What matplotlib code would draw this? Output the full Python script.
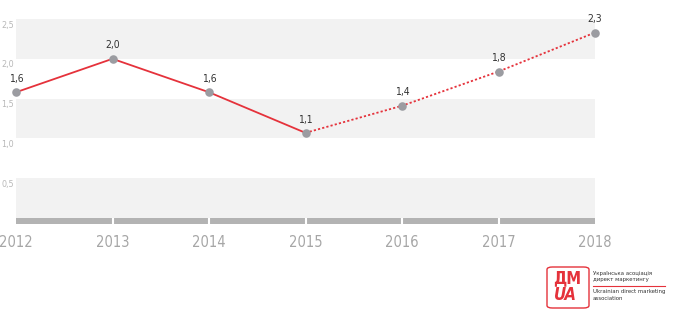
import matplotlib
matplotlib.use("Agg")
import matplotlib.pyplot as plt
from matplotlib.patches import FancyBboxPatch

years = [2012, 2013, 2014, 2015, 2016, 2017, 2018]
values = [1.58, 2.0, 1.58, 1.07, 1.41, 1.84, 2.33]
value_labels = ["1,6", "2,0", "1,6", "1,1", "1,4", "1,8", "2,3"]
ytick_vals = [0.5, 1.0, 1.5, 2.0, 2.5]
ytick_labels = ["0,5", "1,0", "1,5", "2,0", "2,5"]
solid_end = 3  # index of 2015, last actual value

RED = "#e5323b"
DOT = "#9b9ca1"
COND = dict(family="DejaVu Sans", fontstretch="condensed")

W, H = 680, 312
fig = plt.figure(figsize=(W / 100, H / 100), dpi=100)
left, right, top, bottom = 16, 595, 19, 224
ax = fig.add_axes([left / W, 1 - bottom / H, (right - left) / W, (bottom - top) / H])
ax.set_xlim(2012, 2018)
ax.set_ylim(-0.075, 2.5)
ax.axis("off")

# grey bands
for lo in [0.0, 1.0, 2.0]:
    ax.axhspan(lo, lo + 0.5, color="#f2f2f2", lw=0, zorder=0)

# bottom axis bar with gaps at the ticks
ax.axhspan(-0.075, 0, color="#b3b3b3", lw=0, zorder=1)
for yr in years[1:-1]:
    ax.plot([yr, yr], [-0.075, 0], color="white", lw=1.5, zorder=2, solid_capstyle="butt")

# line: solid for actual, dotted for forecast
ax.plot(years[:solid_end + 1], values[:solid_end + 1], color=RED, lw=1.3, zorder=3)
ax.plot(years[solid_end:], values[solid_end:], color=RED, lw=1.3, ls=(0, (1.2, 1.2)), zorder=3)
ax.scatter(years, values, s=38, color=DOT, zorder=4, clip_on=False, linewidths=0)

for x, v, lab in zip(years, values, value_labels):
    ax.annotate(lab, (x, v), xytext=(0, 6), textcoords="offset points", ha="center", va="bottom",
                fontsize=7.5, color="#333333", annotation_clip=False, **COND)

for v, lab in zip(ytick_vals, ytick_labels):
    ax.text(-0.003, v - 0.02, lab, transform=ax.get_yaxis_transform(), ha="right", va="top",
            fontsize=6.5, color="#b8b8b8", **COND)

for yr in years:
    ax.annotate(str(yr), (yr, -0.075), xytext=(0, -8), textcoords="offset points", ha="center", va="top",
                fontsize=10.5, color="#a6a6a6", annotation_clip=False, **COND)

# logo
lx0, ly0, lw_, lh = 547, 267, 42, 41
box = FancyBboxPatch((lx0 / W, 1 - (ly0 + lh) / H), lw_ / W, lh / H,
                     boxstyle="round,pad=0,rounding_size=0.008", transform=fig.transFigure,
                     facecolor="white", edgecolor=RED, lw=1.0)
fig.patches.append(box)
fig.text((lx0 + 20) / W, 1 - 278 / H, "ДМ", ha="center", va="center", fontsize=12,
         color=RED, fontweight="bold", **COND)
fig.text((lx0 + 18) / W, 1 - 295 / H, "UA", ha="center", va="center", fontsize=12,
         color=RED, fontweight="bold", style="italic", **COND)
tx = 593 / W
fig.text(tx, 1 - 273 / H, "Українська асоціація", fontsize=4.3, color="#333333", va="center", **COND)
fig.text(tx, 1 - 280 / H, "директ маркетингу", fontsize=4.3, color="#333333", va="center", **COND)
fig.lines.append(plt.Line2D([tx, 665 / W], [1 - 286 / H, 1 - 286 / H], transform=fig.transFigure,
                            color=RED, lw=0.8))
fig.text(tx, 1 - 292 / H, "Ukrainian direct marketing", fontsize=4.3, color="#333333", va="center", **COND)
fig.text(tx, 1 - 299 / H, "association", fontsize=4.3, color="#333333", va="center", **COND)

fig.savefig("out.png", dpi=100, facecolor="white")
